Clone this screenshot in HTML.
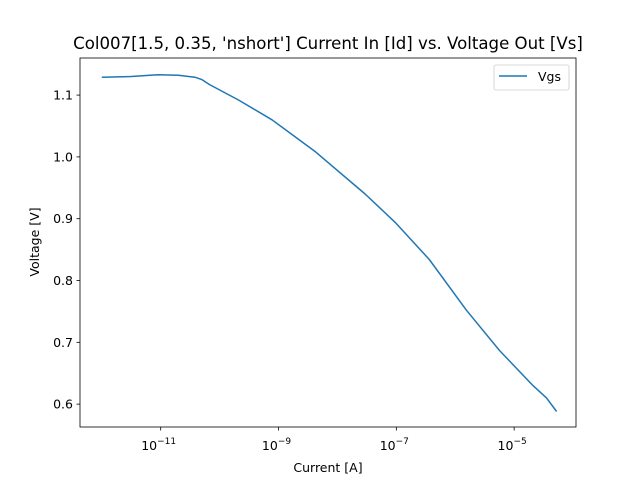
<!DOCTYPE html>
<html><head><meta charset="utf-8"><style>body{margin:0;background:#fff}svg{display:block;font-family:"DejaVu Sans","Liberation Sans",sans-serif}</style></head>
<body>
<svg id="chart" width="640" height="480" xmlns="http://www.w3.org/2000/svg"></svg>
<script>
const logCurrent=[-12,-11.5,-11.05,-10.7,-10.42,-10.3,-10.17,-9.68,-9.11,-8.37,-7.53,-7.02,-6.44,-5.81,-5.25,-4.68,-4.45,-4.28];
const voltage=[1.129,1.130,1.133,1.132,1.129,1.125,1.117,1.092,1.060,1.008,0.940,0.894,0.834,0.752,0.687,0.630,0.610,0.588];
const xTicks=[-11,-9,-7,-5];
const yTicks=[0.6,0.7,0.8,0.9,1.0,1.1];
const L=80,R=576,T=58,B=427;
const xmin=-12.37,xmax=-3.95,ymin=0.563,ymax=1.16;
const sx=v=>L+(v-xmin)/(xmax-xmin)*(R-L);
const sy=v=>B-(v-ymin)/(ymax-ymin)*(B-T);
const svg=document.getElementById('chart');const NS='http://www.w3.org/2000/svg';
function mk(t,a,p){const e=document.createElementNS(NS,t);for(const k in a)e.setAttribute(k,a[k]);(p||svg).appendChild(e);return e;}
mk('rect',{x:0,y:0,width:640,height:480,fill:'#fff'});
let d='';logCurrent.forEach((v,i)=>{d+=(i?'L':'M')+sx(v).toFixed(1)+','+sy(voltage[i]).toFixed(1);});
const line=mk('path',{d:d,fill:'none',stroke:'#1f77b4','stroke-width':1.5,'stroke-linejoin':'round'});


const frame=mk('rect',{x:L,y:T,width:R-L,height:B-T,fill:'none',stroke:'#000','stroke-width':0.8});


xTicks.forEach(v=>{const x=sx(v);mk('line',{x1:x,x2:x,y1:B,y2:B+3.5,stroke:'#000','stroke-width':0.8});
const t=mk('text',{x:x-2,y:B+23,'text-anchor':'middle','font-size':12.5});


t.innerHTML='10<tspan dy="-6" font-size="9">'+String(v).replace('-','−')+'</tspan>';});
yTicks.forEach(v=>{const y=sy(v);mk('line',{x1:L-3.5,x2:L,y1:y,y2:y,stroke:'#000','stroke-width':0.8});
const t=mk('text',{x:L-7,y:y+4.5,'text-anchor':'end','font-size':12.5});


t.textContent=v.toFixed(1);});
const title=mk('text',{x:328,y:49,'text-anchor':'middle','font-size':16.6});title.textContent="Col007[1.5, 0.35, 'nshort'] Current In [Id] vs. Voltage Out [Vs]";


const xl=mk('text',{x:328,y:472,'text-anchor':'middle','font-size':12.5});xl.textContent='Current [A]';


const yl=mk('text',{x:0,y:0,'text-anchor':'middle','font-size':12.5,transform:'translate(39,242) rotate(-90)'});yl.textContent='Voltage [V]';


const lg=mk('g',{});


mk('rect',{x:494,y:65,width:75,height:25,rx:2,fill:'#fff',stroke:'#ccc','stroke-width':0.8},lg);
mk('line',{x1:499,x2:527,y1:76,y2:76,stroke:'#1f77b4','stroke-width':1.5},lg);
const lt=mk('text',{x:538,y:81,'font-size':12.5},lg);lt.textContent='Vgs';
</script>
</body></html>
